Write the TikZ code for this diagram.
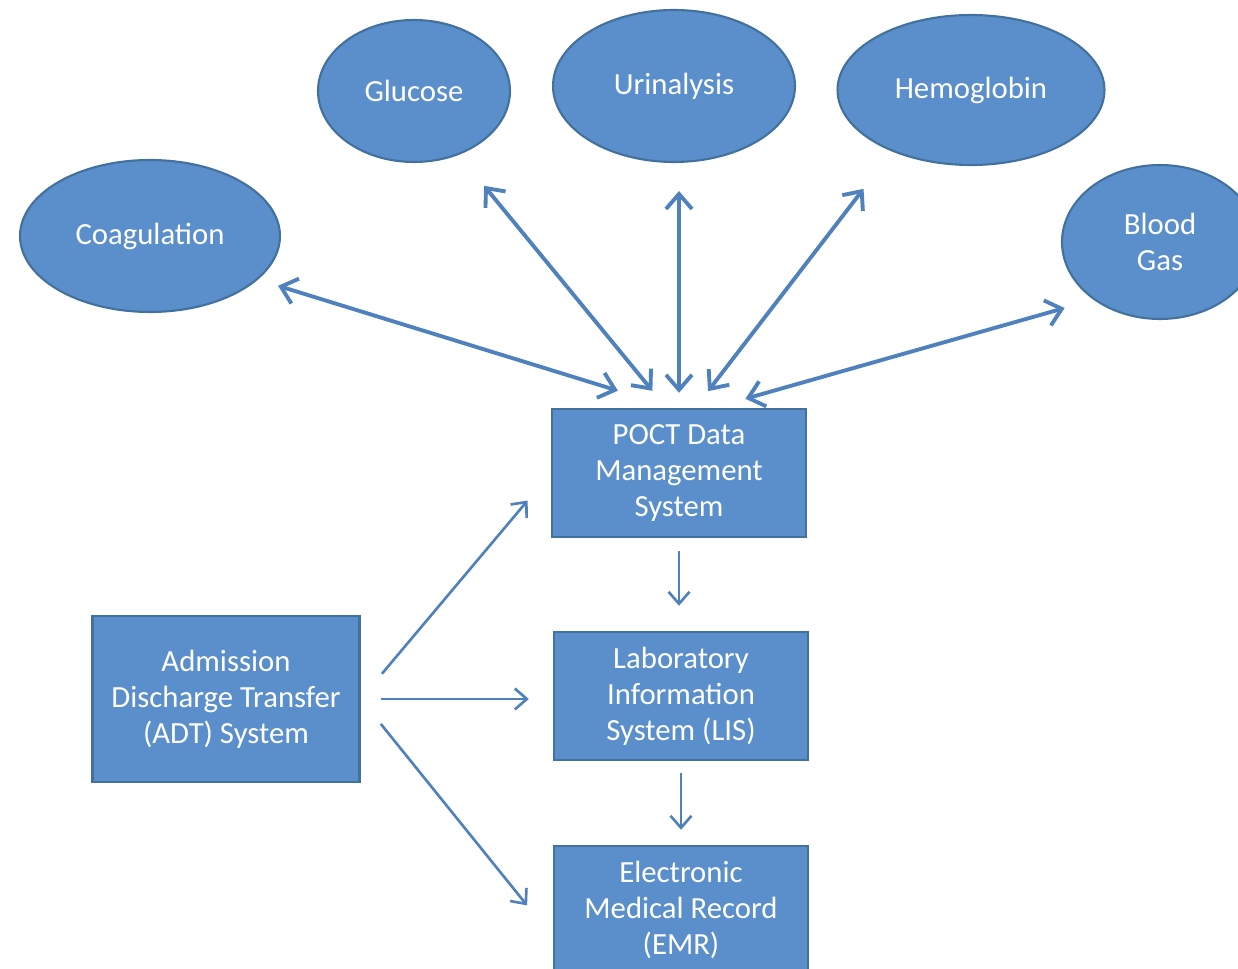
\documentclass[tikz,border=0pt]{standalone}
\usepackage{fontspec}
\setmainfont{Carlito}
\usetikzlibrary{shapes.geometric,arrows.meta}
\definecolor{boxfill}{HTML}{5A8FCB}
\definecolor{boxline}{HTML}{41719C}
\definecolor{arrowblue}{HTML}{4F81BD}

\begin{document}
\begin{tikzpicture}[x=0.02cm, y=-0.02cm,
    every node/.style={text=white, font=\fontsize{17.5}{20.5}\selectfont, align=center, inner sep=0pt},
    test/.style={ellipse, draw=boxline, fill=boxfill, line width=1.2pt},
    sysbox/.style={rectangle, draw=boxline, fill=boxfill, line width=1.4pt, minimum width=5.08cm, minimum height=2.56cm},
    link/.style={draw=arrowblue, line width=2.2pt, {Straight Barb[length=0.3cm, width=0.52cm]}-{Straight Barb[length=0.3cm, width=0.52cm]}},
    feed/.style={draw=arrowblue, line width=1.5pt, -{Straight Barb[length=0.24cm, width=0.42cm]}}]
    \clip (0,0) rectangle (1238,969);
    \fill[white] (0,0) rectangle (1238,969);

    \node [test, minimum width=3.84cm, minimum height=2.84cm] (glucose) at (414,91) {Glucose};
    \node [test, minimum width=4.84cm, minimum height=3.04cm] (urin) at (674,86) {Urinalysis};
    \node [test, minimum width=5.34cm, minimum height=3.0cm] (hemo) at (971,90) {Hemoglobin};
    \node [test, minimum width=5.2cm, minimum height=3.04cm] (coag) at (150,236) {Coagulation};
    \node [test, minimum width=3.92cm, minimum height=3.08cm] (gas) at (1160,242) {Blood\\Gas};

    \node [sysbox] (poct) at (679,473) {POCT Data\\Management\\System};
    \node [sysbox] (lis) at (681,696) {Laboratory\\Information\\System (LIS)};
    \node [sysbox] (emr) at (681,910) {Electronic\\Medical Record\\(EMR)};
    \node [sysbox, minimum width=5.34cm, minimum height=3.32cm] (adt) at (226,699) {Admission\\Discharge Transfer\\(ADT) System};

    \draw [link, shorten <=0.42cm, shorten >=1.16cm] (coag.-22) -- (poct.95);
    \draw [link, shorten <=0.8cm, shorten >=0.44cm] (glucose.-55) -- (poct.101);
    \draw [link, shorten <=0.56cm, shorten >=0.3cm] (poct.north |- urin.south) -- (poct.north);
    \draw [link, shorten <=0.94cm, shorten >=0.42cm] (hemo.218) -- (poct.76);
    \draw [link, shorten <=0.6cm, shorten >=0.66cm] (gas.221) -- (poct.62);

    \draw [feed, shorten <=0.26cm, shorten >=0.5cm] (poct.south) -- (poct.south |- lis.north);
    \draw [feed, shorten <=0.24cm, shorten >=0.3cm] (lis.south) -- (emr.north);
    \draw [feed, shorten <=0.66cm, shorten >=0.72cm] (adt.east) -- (poct.west);
    \draw [feed, shorten <=0.4cm, shorten >=0.48cm] (adt.east) -- (adt.east -| lis.west);
    \draw [feed, shorten <=0.64cm, shorten >=0.82cm] (adt.east) -- (emr.192);
\end{tikzpicture}
\end{document}
